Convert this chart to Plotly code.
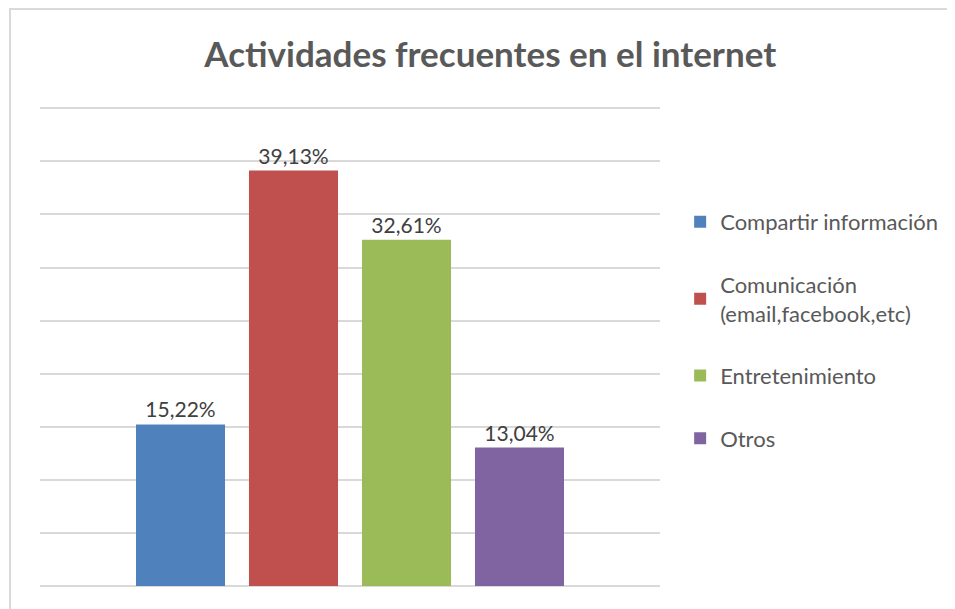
import plotly.graph_objects as go

categories = ["Compartir información", "Comunicación<br>(email,facebook,etc)", "Entretenimiento", "Otros"]
values = [15.22, 39.13, 32.61, 13.04]
labels = ["15,22%", "39,13%", "32,61%", "13,04%"]
colors = ["#4f81bd", "#c0504d", "#9bbb59", "#8064a2"]

fig = go.Figure()
for name, v, lab, c in zip(categories, values, labels, colors):
    fig.add_trace(go.Bar(
        x=[""], y=[v], name=name, text=[lab],
        textposition="outside", cliponaxis=False,
        textfont=dict(size=21, color="#404040", family="Lato"),
        marker=dict(color=c, line=dict(width=0)),
        legendgroup=name,
    ))

# page body adds ~8px offset, margins compensate for it
fig.update_layout(
    width=955, height=609,
    paper_bgcolor="white", plot_bgcolor="white",
    font=dict(family="Lato", color="#595959"),
    title=dict(text="<b>Actividades frecuentes en el internet</b>",
               x=0.505, xanchor="center", y=0.923, yanchor="middle",
               font=dict(size=35, color="#595959", family="Lato")),
    margin=dict(l=32, r=303, t=95, b=31),
    barmode="group", bargap=0.271, bargroupgap=0.212,
    showlegend=True,
    legend=dict(x=1.0325, xanchor="left", y=1 - 98/483, yanchor="top",
                font=dict(size=22, color="#595959", family="Lato"),
                tracegroupgap=31, itemwidth=30, traceorder="grouped"),
    xaxis=dict(showticklabels=False, showline=False, showgrid=False, zeroline=False),
    yaxis=dict(range=[0, 45.5], tickvals=[5, 10, 15, 20, 25, 30, 35, 40, 45],
               showticklabels=False, showgrid=True,
               gridcolor="#d9d9d9", gridwidth=1.5, zeroline=True,
               zerolinecolor="#d9d9d9", zerolinewidth=1.5, showline=False),
    shapes=[dict(type="rect", xref="paper", yref="paper",
                 x0=-30/620, x1=1.6, y0=-0.2, y1=1 + 94/483,
                 line=dict(color="#d9d9d9", width=2), fillcolor="rgba(0,0,0,0)", layer="below")],
)

fig.write_html("out.html")
